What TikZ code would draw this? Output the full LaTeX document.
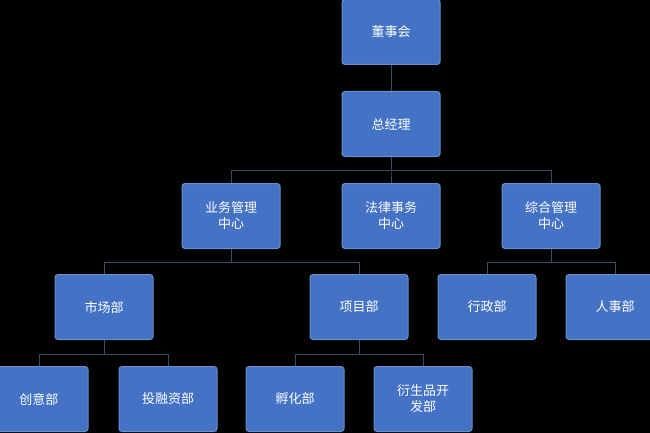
\documentclass[tikz,border=0pt]{standalone}
\usepackage{fontspec}
\setmainfont{Noto Sans CJK SC}
\begin{document}
\begin{tikzpicture}[x=1pt,y=-1pt,
  box/.style={draw=boxline,line width=1pt,fill=boxfill,rounded corners=3pt,minimum width=98pt,minimum height=65pt,text=white,font=\fontsize{13}{16}\selectfont,align=center,inner sep=2pt},
  link/.style={draw=linkc,line width=0.9pt}]
\definecolor{boxfill}{HTML}{4472C4}
\definecolor{boxline}{HTML}{6F8FC8}
\definecolor{linkc}{HTML}{3A4A6A}
\fill[black] (0,0) rectangle (650,433);
\clip (0,0) rectangle (650,433);
\node[box] (a) at (391,32) {董事会};
\node[box] (b) at (391,124) {总经理};
\node[box] (c1) at (231,216) {业务管理\\中心};
\node[box] (c2) at (391,216) {法律事务\\中心};
\node[box] (c3) at (551,216) {综合管理\\中心};
\node[box] (d1) at (104,307) {市场部};
\node[box] (d2) at (359,307) {项目部};
\node[box] (d3) at (487,307) {行政部};
\node[box] (d4) at (615,307) {人事部};
\node[box] (e1) at (39,399) {创意部};
\node[box] (e2) at (168,399) {投融资部};
\node[box] (e3) at (295,399) {孵化部};
\node[box] (e4) at (423,399) {衍生品开\\发部};
\draw[link] (a.south) -- (b.north);
\foreach \c in {c1,c2,c3} \draw[link] (b.south) |- (\c.north |- 0,170) -- (\c.north);
\foreach \c in {d1,d2} \draw[link] (c1.south) |- (\c.north |- 0,262) -- (\c.north);
\foreach \c in {d3,d4} \draw[link] (c3.south) |- (\c.north |- 0,262) -- (\c.north);
\foreach \c in {e1,e2} \draw[link] (d1.south) |- (\c.north |- 0,354) -- (\c.north);
\foreach \c in {e3,e4} \draw[link] (d2.south) |- (\c.north |- 0,354) -- (\c.north);
\end{tikzpicture}
\end{document}
